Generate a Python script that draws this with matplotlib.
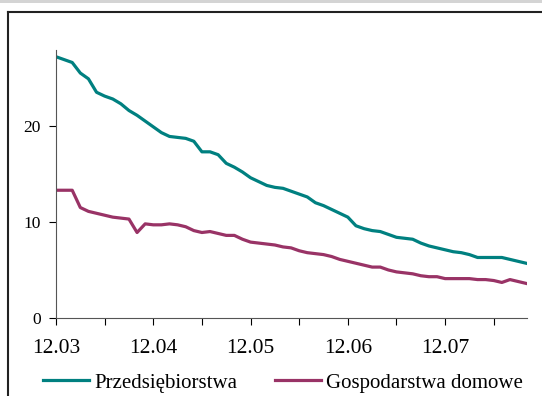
import numpy as np
import matplotlib.pyplot as plt
from matplotlib.lines import Line2D
from matplotlib.patches import Rectangle

# monthly data, 12.03 .. 10.08
firms = [27.2, 26.9, 26.6, 25.5, 24.9, 23.5, 23.1, 22.8, 22.3, 21.6,
         21.1, 20.5, 19.9, 19.3, 18.9, 18.8, 18.7, 18.4, 17.3, 17.3,
         17.0, 16.1, 15.7, 15.2, 14.6, 14.2, 13.8, 13.6, 13.5, 13.2,
         12.9, 12.6, 12.0, 11.7, 11.3, 10.9, 10.5, 9.6, 9.3, 9.1,
         9.0, 8.7, 8.4, 8.3, 8.2, 7.8, 7.5, 7.3, 7.1, 6.9,
         6.8, 6.6, 6.3, 6.3, 6.3, 6.3, 6.1, 5.9, 5.7]
households = [13.3, 13.3, 13.3, 11.5, 11.1, 10.9, 10.7, 10.5, 10.4, 10.3,
              8.9, 9.8, 9.7, 9.7, 9.8, 9.7, 9.5, 9.1, 8.9, 9.0,
              8.8, 8.6, 8.6, 8.2, 7.9, 7.8, 7.7, 7.6, 7.4, 7.3,
              7.0, 6.8, 6.7, 6.6, 6.4, 6.1, 5.9, 5.7, 5.5, 5.3,
              5.3, 5.0, 4.8, 4.7, 4.6, 4.4, 4.3, 4.3, 4.1, 4.1,
              4.1, 4.1, 4.0, 4.0, 3.9, 3.7, 4.0, 3.8, 3.6]
year_labels = ["12.03", "12.04", "12.05", "12.06", "12.07"]

plt.rcParams['font.family'] = ['Liberation Serif', 'DejaVu Serif']

fig = plt.figure(figsize=(5.42, 3.96), dpi=100)
W, H = 542, 396

# gray strip at the top and the chart frame
fig.add_artist(Rectangle((0, 1 - 3 / H), 1, 3 / H, transform=fig.transFigure,
                         color='#d4d4d4', lw=0))
fig.add_artist(Line2D([8 / W, 8 / W], [0, 1 - 12 / H], transform=fig.transFigure,
                      color='#222222', lw=1.5))
fig.add_artist(Line2D([8 / W, 1], [1 - 12 / H, 1 - 12 / H], transform=fig.transFigure,
                      color='#222222', lw=1.5))

ax = fig.add_axes([56 / W, 1 - 318 / H, (527 - 56) / W, (318 - 50) / H])
x = np.arange(len(firms))
ax.plot(x, firms, color='#008080', lw=2.3, label='Przedsiębiorstwa')
ax.plot(x, households, color='#993366', lw=2.3, label='Gospodarstwa domowe')

ax.set_xlim(0, len(firms) - 1 + 0.1)
ax.set_ylim(0, 27.9)
ax.set_xticks(np.arange(0, 60, 6))
ax.set_xticklabels([year_labels[i // 2] if i % 2 == 0 else '' for i in range(10)],
                   fontsize=15.5)
ax.set_yticks([0, 10, 20])
ax.tick_params(axis='y', labelsize=12.5, length=5, width=0.8, pad=6)
ax.tick_params(axis='x', length=5, width=0.8, pad=10, colors='black')

for s in ['top', 'right']:
    ax.spines[s].set_visible(False)
for s in ['left', 'bottom']:
    ax.spines[s].set_color('#555555')
    ax.spines[s].set_linewidth(0.8)

ax.legend(loc='center', bbox_to_anchor=(283 / W, 1 - 383 / H),
          bbox_transform=fig.transFigure, ncol=2, frameon=False,
          fontsize=15, handlelength=2.2, handletextpad=0.25,
          columnspacing=1.8, borderaxespad=0)

fig.savefig('out.png', dpi=100)
